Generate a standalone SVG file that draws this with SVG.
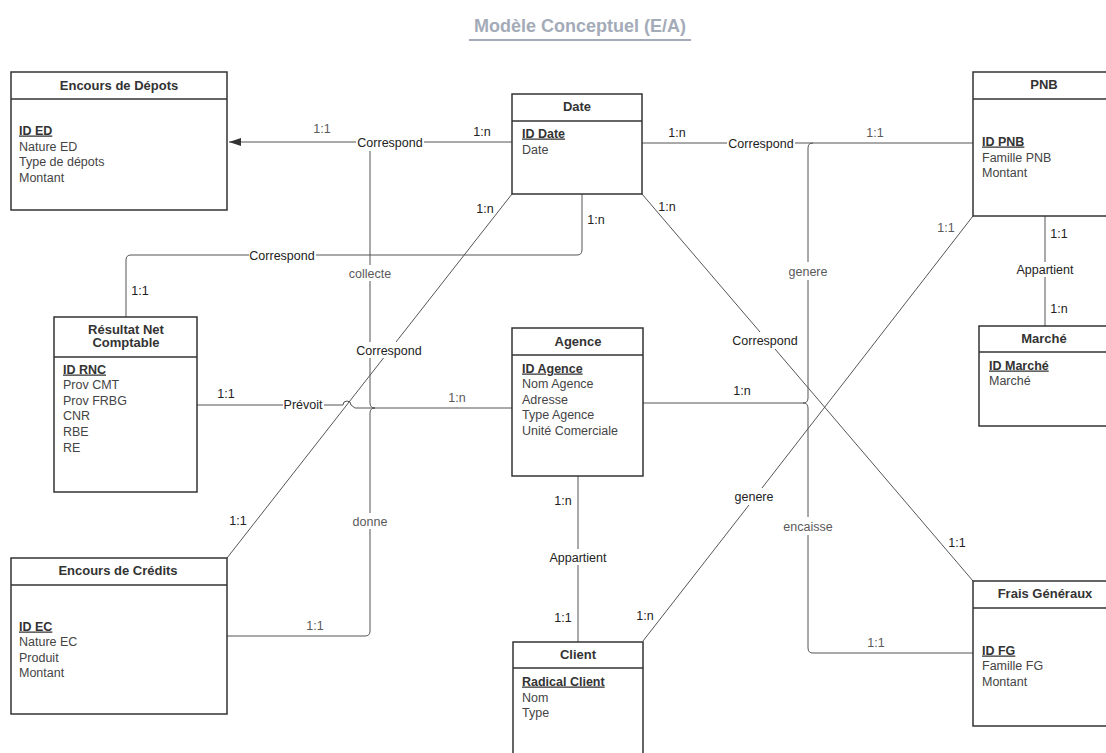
<svg xmlns="http://www.w3.org/2000/svg" width="1106" height="753" viewBox="0 0 1106 753">
  <style>
    .box { fill: #ffffff; stroke: #333333; stroke-width: 1.5; }
    .sep { stroke: #333333; stroke-width: 1.5; }
    .hd { font-family: "Liberation Sans", Arial, sans-serif; font-size: 13px; font-weight: bold; fill: #333333; text-anchor: middle; }
    .at { font-family: "Liberation Sans", Arial, sans-serif; font-size: 12.5px; fill: #444444; }
    .pk { font-weight: bold; fill: #333333; text-decoration: underline; }
    .ln { fill: none; stroke: #555555; stroke-width: 1; }
    .lb { font-family: "Liberation Sans", Arial, sans-serif; font-size: 12.5px; fill: #222222; text-anchor: middle; }
    .lg { fill: #5a5a5a; }
    .title { font-family: "Liberation Sans", Arial, sans-serif; font-size: 18px; font-weight: bold; fill: #a4abb8; text-anchor: middle; }
  </style>
  <defs>
    <marker id="arrow" viewBox="0 0 12 8" refX="12" refY="4" markerWidth="12" markerHeight="8" markerUnits="userSpaceOnUse" orient="auto">
      <path d="M0,0 L12,4 L0,8 z" fill="#333333"/>
    </marker>
  </defs>

  <rect width="1106" height="753" fill="#ffffff"/>

  <!-- title -->
  <g id="title">
    <text class="title" x="580" y="32">Modèle Conceptuel (E/A)</text>
    <line x1="469" y1="40" x2="691" y2="40" stroke="#a4abb8" stroke-width="2"/>
  </g>

  <!-- connectors -->
  <g id="connectors">
    <!-- Date -> Encours de Dépots -->
    <path class="ln" d="M512,142 H424"/>
    <path class="ln" d="M356,142 H229" marker-end="url(#arrow)"/>
    <!-- collecte / donne / Prévoit bus into Agence -->
    <path class="ln" d="M370,151 V265 M370,281 V342 M370,358 V403 Q370,408 375,408 H512"/>
    <path class="ln" d="M227,636 H365 Q370,636 370,631 V529 M370,513 V413 Q370,408 375,408"/>
    <path class="ln" d="M197,405 H283 M324,405 H343 A4,4 0 0 1 351,405 L355,408 H375"/>
    <!-- Date -> Résultat Net Comptable -->
    <path class="ln" d="M582,194 V250 Q582,255 577,255 H316 M249,255 H131 Q126,255 126,260 V317"/>
    <!-- Date -> Encours de Crédits -->
    <path class="ln" d="M512,194 L396,342 M383.5,358 L227,558"/>
    <!-- Date -> PNB -->
    <path class="ln" d="M642,143 H727 M795,143 H973"/>
    <!-- genere / encaisse bus -->
    <path class="ln" d="M813,143 Q808,143 808,148 V262 M808,280 V398 Q808,403 803,403 H643"/>
    <path class="ln" d="M803,403 Q808,403 808,408 V517 M808,535 V648 Q808,653 813,653 H973"/>
    <!-- Client -> PNB -->
    <path class="ln" d="M643,641 L749,505 M762,488 L973,216"/>
    <!-- Date -> Frais Généraux -->
    <path class="ln" d="M642,194 L760,332 M775,349 L973,581"/>
    <!-- PNB -> Marché -->
    <path class="ln" d="M1045,216 V262 M1045,277 V326"/>
    <!-- Agence -> Client -->
    <path class="ln" d="M578,476 V549 M578,565 V642"/>

    <!-- relationship labels -->
    <text class="lb" x="390" y="146.5">Correspond</text>
    <text class="lb lg" x="370" y="277.5">collecte</text>
    <text class="lb" x="389" y="354.5">Correspond</text>
    <text class="lb" x="282" y="259.5">Correspond</text>
    <text class="lb" x="303" y="408.5">Prévoit</text>
    <text class="lb lg" x="370" y="525.5">donne</text>
    <text class="lb" x="761" y="147.5">Correspond</text>
    <text class="lb lg" x="808" y="275.5">genere</text>
    <text class="lb" x="765" y="344.5">Correspond</text>
    <text class="lb" x="754" y="500.5">genere</text>
    <text class="lb lg" x="808" y="530.5">encaisse</text>
    <text class="lb" x="1045" y="273.5">Appartient</text>
    <text class="lb" x="578" y="561.5">Appartient</text>

    <!-- cardinalities -->
    <text class="lb lg" x="322" y="133">1:1</text>
    <text class="lb" x="482" y="135.5">1:n</text>
    <text class="lb" x="677" y="136.5">1:n</text>
    <text class="lb lg" x="875" y="136.5">1:1</text>
    <text class="lb" x="485" y="212.5">1:n</text>
    <text class="lb" x="596" y="224">1:n</text>
    <text class="lb" x="667" y="210.5">1:n</text>
    <text class="lb lg" x="946" y="232">1:1</text>
    <text class="lb" x="1059" y="238">1:1</text>
    <text class="lb" x="1059" y="312.5">1:n</text>
    <text class="lb" x="140" y="294.5">1:1</text>
    <text class="lb" x="226" y="397.5">1:1</text>
    <text class="lb lg" x="457" y="401.5">1:n</text>
    <text class="lb" x="742" y="395">1:n</text>
    <text class="lb" x="238" y="524.5">1:1</text>
    <text class="lb lg" x="315" y="629.5">1:1</text>
    <text class="lb" x="563" y="505">1:n</text>
    <text class="lb" x="563" y="621.5">1:1</text>
    <text class="lb" x="645" y="619.5">1:n</text>
    <text class="lb" x="957" y="546.5">1:1</text>
    <text class="lb lg" x="876" y="646.5">1:1</text>
  </g>

  <!-- entities -->
  <g id="encours-depots">
    <rect class="box" x="11" y="72" width="216" height="138"/>
    <line class="sep" x1="11" y1="99" x2="227" y2="99"/>
    <text class="hd" x="119" y="89.5">Encours de Dépots</text>
    <text class="at" x="19"><tspan class="pk" x="19" y="134.5">ID ED</tspan><tspan x="19" y="150.5">Nature ED</tspan><tspan x="19" y="165.5">Type de dépots</tspan><tspan x="19" y="181.5">Montant</tspan></text>
  </g>

  <g id="date">
    <rect class="box" x="512" y="94" width="130" height="100"/>
    <line class="sep" x1="512" y1="121" x2="642" y2="121"/>
    <text class="hd" x="577" y="110.5">Date</text>
    <text class="at"><tspan class="pk" x="522" y="137.5">ID Date</tspan><tspan x="522" y="153.5">Date</tspan></text>
  </g>

  <g id="pnb">
    <rect class="box" x="973" y="72" width="143" height="144"/>
    <line class="sep" x1="973" y1="99" x2="1116" y2="99"/>
    <text class="hd" x="1044" y="88.5">PNB</text>
    <text class="at"><tspan class="pk" x="982" y="145.5">ID PNB</tspan><tspan x="982" y="161.5">Famille PNB</tspan><tspan x="982" y="176.5">Montant</tspan></text>
  </g>

  <g id="marche">
    <rect class="box" x="979" y="326" width="131" height="100"/>
    <line class="sep" x1="979" y1="352" x2="1110" y2="352"/>
    <text class="hd" x="1044" y="342.5">Marché</text>
    <text class="at"><tspan class="pk" x="989" y="369.5">ID Marché</tspan><tspan x="989" y="384.5">Marché</tspan></text>
  </g>

  <g id="resultat-net-comptable">
    <rect class="box" x="54" y="317" width="143" height="175"/>
    <line class="sep" x1="54" y1="357" x2="197" y2="357"/>
    <text class="hd"><tspan x="126" y="333.5">Résultat Net</tspan><tspan x="126" y="347">Comptable</tspan></text>
    <text class="at"><tspan class="pk" x="63" y="373.5">ID RNC</tspan><tspan x="63" y="388.5">Prov CMT</tspan><tspan x="63" y="404.5">Prov FRBG</tspan><tspan x="63" y="419.5">CNR</tspan><tspan x="63" y="435.5">RBE</tspan><tspan x="63" y="451.5">RE</tspan></text>
  </g>

  <g id="agence">
    <rect class="box" x="512" y="328" width="131" height="148"/>
    <line class="sep" x1="512" y1="355" x2="643" y2="355"/>
    <text class="hd" x="578" y="345.5">Agence</text>
    <text class="at"><tspan class="pk" x="522" y="372.5">ID Agence</tspan><tspan x="522" y="387.5">Nom Agence</tspan><tspan x="522" y="403.5">Adresse</tspan><tspan x="522" y="418.5">Type Agence</tspan><tspan x="522" y="434.5">Unité Comerciale</tspan></text>
  </g>

  <g id="encours-credits">
    <rect class="box" x="11" y="558" width="216" height="156"/>
    <line class="sep" x1="11" y1="585" x2="227" y2="585"/>
    <text class="hd" x="118" y="574.5">Encours de Crédits</text>
    <text class="at"><tspan class="pk" x="19" y="630.5">ID EC</tspan><tspan x="19" y="645.5">Nature EC</tspan><tspan x="19" y="661.5">Produit</tspan><tspan x="19" y="676.5">Montant</tspan></text>
  </g>

  <g id="client">
    <rect class="box" x="513" y="642" width="130" height="130"/>
    <line class="sep" x1="513" y1="668" x2="643" y2="668"/>
    <text class="hd" x="578" y="658.5">Client</text>
    <text class="at"><tspan class="pk" x="522" y="685.5">Radical Client</tspan><tspan x="522" y="701.5">Nom</tspan><tspan x="522" y="716.5">Type</tspan></text>
  </g>

  <g id="frais-generaux">
    <rect class="box" x="973" y="581" width="144" height="145"/>
    <line class="sep" x1="973" y1="608" x2="1117" y2="608"/>
    <text class="hd" x="1045" y="597.5">Frais Généraux</text>
    <text class="at"><tspan class="pk" x="982" y="654.5">ID FG</tspan><tspan x="982" y="669.5">Famille FG</tspan><tspan x="982" y="685.5">Montant</tspan></text>
  </g>
</svg>
